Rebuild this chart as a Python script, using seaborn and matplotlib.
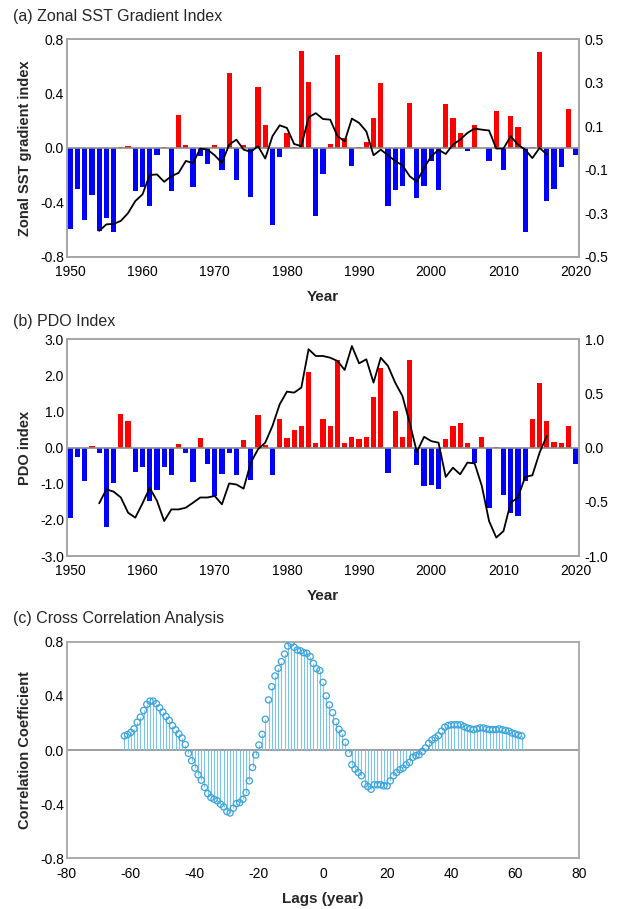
import numpy as np
import pandas as pd
import matplotlib
matplotlib.use("Agg")
import matplotlib.pyplot as plt
import seaborn as sns

sns.set_theme(style="white")
plt.rcParams['font.family'] = ['Liberation Sans', 'DejaVu Sans']
plt.rcParams['axes.unicode_minus'] = False

# ---------------- data ----------------
years = list(range(1950, 2021))
sst_index = [-0.60, -0.30, -0.53, -0.35, -0.61, -0.52, -0.62, 0.01, 0.015, -0.32,
             -0.29, -0.43, -0.055, 0.01, -0.32, 0.24, 0.02, -0.29, -0.06, -0.12,
             0.02, -0.16, 0.555, -0.24, 0.02, -0.36, 0.45, 0.17, -0.57, -0.07,
             0.11, 0.01, 0.715, 0.485, -0.50, -0.19, 0.03, 0.685, 0.075, -0.13,
             0.01, 0.04, 0.22, 0.48, -0.43, -0.31, -0.28, 0.33, -0.37, -0.28,
             -0.10, -0.31, 0.32, 0.22, 0.11, -0.025, 0.17, 0.0, -0.10, 0.27,
             -0.16, 0.235, 0.155, -0.62, 0.005, 0.705, -0.39, -0.305, -0.14, 0.29, -0.055]

smooth_years = list(range(1954, 2017))
sst_smooth = [-0.382, -0.352, -0.35, -0.336, -0.30, -0.245, -0.214, -0.125, -0.122, -0.156,
              -0.13, -0.115, -0.06, -0.07, -0.003, -0.008, -0.034, -0.069, 0.015, 0.038,
              -0.008, -0.018, 0.008, -0.049, 0.054, 0.104, 0.092, 0.018, 0.008, 0.141,
              0.16, 0.133, 0.13, 0.054, 0.03, 0.135, 0.115, 0.076, -0.034, -0.008,
              -0.034, -0.06, -0.08, -0.13, -0.156, -0.092, -0.038, -0.009, -0.028, 0.015,
              0.038, 0.069, 0.089, 0.084, 0.08, -0.003, -0.003, 0.054, 0.015, -0.008,
              -0.047, 0.0, -0.03]

pdo_index = [-1.94, -0.25, -0.93, 0.05, -0.16, -2.2, -0.99, 0.93, 0.74, -0.67,
             -0.53, -1.47, -1.18, -0.53, -0.76, 0.09, -0.14, -0.96, 0.26, -0.45,
             -1.34, -0.73, -0.14, -0.76, 0.2, -0.90, 0.9, 0.08, -0.76, 0.78,
             0.28, 0.48, 0.6, 2.1, 0.14, 0.78, 0.6, 2.43, 0.14, 0.3,
             0.25, 0.3, 1.39, 2.2, -0.71, 1.02, 0.3, 2.44, -0.49, -1.06,
             -1.04, -1.15, 0.23, 0.61, 0.67, 0.14, -0.42, 0.3, -1.66, 0.02,
             -1.32, -1.82, -1.89, -0.92, 0.8, 1.78, 0.73, 0.16, 0.12, 0.6, -0.44]

pdo_smooth = [-0.514, -0.385, -0.406, -0.46, -0.6, -0.646, -0.514, -0.372, -0.49, -0.677,
              -0.57, -0.57, -0.554, -0.508, -0.46, -0.46, -0.446, -0.523, -0.33, -0.34,
              -0.378, -0.138, -0.015, 0.046, 0.2, 0.4, 0.517, 0.508, 0.554, 0.908,
              0.846, 0.846, 0.83, 0.8, 0.717, 0.938, 0.778, 0.815, 0.6, 0.83,
              0.754, 0.6, 0.477, 0.23, -0.04, 0.1, 0.06, 0.046, -0.27, -0.185,
              -0.246, -0.138, -0.145, -0.354, -0.677, -0.83, -0.77, -0.508, -0.46, -0.27,
              -0.255, -0.046, 0.108]

lags = list(range(-62, 63))
ccf = [0.104, 0.114, 0.13, 0.156, 0.205, 0.243, 0.292, 0.337, 0.361, 0.361,
       0.342, 0.312, 0.28, 0.248, 0.218, 0.18, 0.149, 0.119, 0.089, 0.04,
       -0.025, -0.079, -0.134, -0.183, -0.223, -0.277, -0.322, -0.351, -0.364, -0.376,
       -0.4, -0.42, -0.455, -0.465, -0.43, -0.396, -0.389, -0.364, -0.314, -0.228,
       -0.129, -0.037, 0.037, 0.116, 0.227, 0.37, 0.468, 0.547, 0.603, 0.653,
       0.709, 0.768, 0.788, 0.759, 0.739, 0.732, 0.719, 0.714, 0.69, 0.64,
       0.6, 0.587, 0.5, 0.4, 0.333, 0.276, 0.209, 0.153, 0.123, 0.057,
       -0.025, -0.109, -0.141, -0.166, -0.19, -0.252, -0.27, -0.29, -0.257, -0.257,
       -0.257, -0.265, -0.265, -0.228, -0.19, -0.166, -0.146, -0.134, -0.109, -0.092,
       -0.054, -0.042, -0.035, -0.01, 0.015, 0.05, 0.074, 0.089, 0.106, 0.139,
       0.168, 0.181, 0.186, 0.186, 0.186, 0.186, 0.173, 0.163, 0.156, 0.151,
       0.156, 0.163, 0.163, 0.156, 0.151, 0.151, 0.151, 0.156, 0.149, 0.144,
       0.139, 0.126, 0.119, 0.111, 0.104]

year_ticks = [1950, 1960, 1970, 1980, 1990, 2000, 2010, 2020]

# ---------------- figure ----------------
W, H = 619, 909
fig = plt.figure(figsize=(W / 100, H / 100), dpi=100)

def px_axes(left, top, right, bottom):
    return fig.add_axes([left / W, 1 - bottom / H, (right - left) / W, (bottom - top) / H])

FRAME = '#a6a6a6'
TICK_FS = 10
LABEL_FS = 11

def style(ax):
    for s in ax.spines.values():
        s.set_color(FRAME)
        s.set_linewidth(1.3)
    ax.tick_params(axis='y', length=0, labelsize=TICK_FS, colors='black', pad=2)
    ax.tick_params(axis='x', length=0, labelsize=TICK_FS, colors='black', pad=6)

def bar_panel(ax, values, smooth, ylim, yticks, rlim, rticks, ylabel):
    df = pd.DataFrame({'year': years, 'value': values,
                       'sign': ['pos' if v >= 0 else 'neg' for v in values]})
    sns.barplot(data=df, x='year', y='value', hue='sign',
                palette={'pos': '#ff0000', 'neg': '#0000ff'},
                native_scale=True, dodge=False, width=0.72,
                saturation=1, legend=False, ax=ax, linewidth=0)
    ax.axhline(0, color='#8c8c8c', lw=1.2, zorder=1)
    ax.set_xlim(1949.5, 2020.5)
    ax.set_ylim(*ylim)
    ax.set_yticks(yticks)
    ax.set_yticklabels([f'{t:.1f}' for t in yticks])
    ax.set_xticks(year_ticks)
    ax.set_xticklabels([str(t) for t in year_ticks])
    ax.set_xlabel('Year', fontsize=LABEL_FS, fontweight='bold', labelpad=8)
    ax.set_ylabel(ylabel, fontsize=LABEL_FS - 0.5, fontweight='bold', labelpad=6)
    style(ax)
    ax2 = ax.twinx()
    dfs = pd.DataFrame({'year': smooth_years, 'value': smooth})
    sns.lineplot(data=dfs, x='year', y='value', color='black', lw=1.3, ax=ax2)
    ax2.set_ylim(*rlim)
    ax2.set_yticks(rticks)
    ax2.set_yticklabels([f'{t:.1f}' for t in rticks])
    ax2.set_ylabel('')
    ax2.set_xlabel('')
    ax2.set_xlim(1949.5, 2020.5)
    style(ax2)
    ax2.tick_params(axis='y', pad=4)
    return ax, ax2

# panel (a)
ax_a = px_axes(66.7, 39.3, 579.3, 256.5)
bar_panel(ax_a, sst_index, sst_smooth, (-0.8, 0.8), [-0.8, -0.4, 0.0, 0.4, 0.8],
          (-0.5, 0.5), [-0.5, -0.3, -0.1, 0.1, 0.3, 0.5], 'Zonal SST gradient index')

# panel (b)
ax_b = px_axes(66.7, 339.3, 579.3, 556.0)
bar_panel(ax_b, pdo_index, pdo_smooth, (-3.0, 3.0), [-3.0, -2.0, -1.0, 0.0, 1.0, 2.0, 3.0],
          (-1.0, 1.0), [-1.0, -0.5, 0.0, 0.5, 1.0], 'PDO index')

# panel (c)
ax_c = px_axes(66.7, 641.7, 579.3, 858.3)
ax_c.axhline(0, color='#8c8c8c', lw=1.2, zorder=1)
ax_c.vlines(lags, 0, ccf, color='#7cc6ee', lw=0.8, zorder=2)
dfc = pd.DataFrame({'lag': lags, 'r': ccf})
sns.scatterplot(data=dfc, x='lag', y='r', marker='o', s=20, facecolor='none',
                edgecolor='#3aa3dc', linewidth=0.9, ax=ax_c, zorder=3)
ax_c.set_xlim(-80, 80)
ax_c.set_ylim(-0.8, 0.8)
ax_c.set_xticks(list(range(-80, 81, 20)))
ax_c.set_yticks([-0.8, -0.4, 0.0, 0.4, 0.8])
ax_c.set_yticklabels([f'{t:.1f}' for t in [-0.8, -0.4, 0.0, 0.4, 0.8]])
ax_c.set_xlabel('Lags (year)', fontsize=LABEL_FS, fontweight='bold', labelpad=8)
ax_c.set_ylabel('Correlation Coefficient', fontsize=LABEL_FS - 0.5, fontweight='bold', labelpad=6)
style(ax_c)

# titles
fig.text(13 / W, 1 - 16 / H, '(a) Zonal SST Gradient Index', fontsize=11.5, va='center', ha='left')
fig.text(13 / W, 1 - 322 / H, '(b) PDO Index', fontsize=11.5, va='center', ha='left')
fig.text(13 / W, 1 - 619 / H, '(c) Cross Correlation Analysis', fontsize=11.5, va='center', ha='left')

fig.savefig('out.png', dpi=100, facecolor='white')
